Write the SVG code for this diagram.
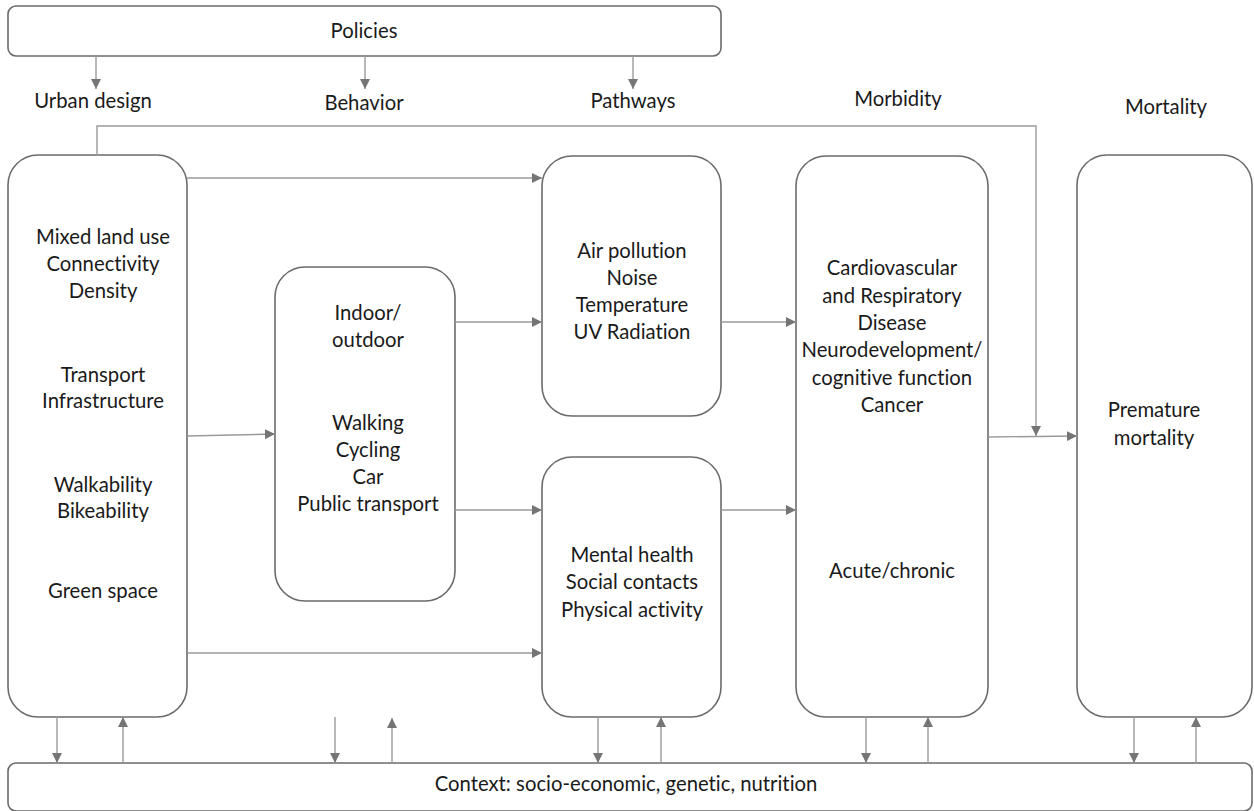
<svg xmlns="http://www.w3.org/2000/svg" width="1254" height="811" viewBox="0 0 1254 811">
  <style>
    .box { fill: #ffffff; stroke: #6b6b6b; stroke-width: 1.6; }
    .lbl { font-family: Lato, "Open Sans", "Liberation Sans", sans-serif; font-size: 20.3px; fill: #1a1a1a; text-anchor: middle; font-variant-ligatures: none; }
    .conn { fill: none; stroke: #9a9a9a; stroke-width: 1.4; }
  </style>
  <defs>
    <marker id="arrow" viewBox="0 0 10 10" refX="10" refY="5" markerWidth="10" markerHeight="10" markerUnits="userSpaceOnUse" orient="auto">
      <path d="M0,0 L10,5 L0,10 z" fill="#757575"/>
    </marker>
  </defs>

  <rect width="1254" height="811" fill="#ffffff"/>

  <!-- column headings -->
  <g id="headings">
    <text class="lbl" x="93" y="108">Urban design</text>
    <text class="lbl" x="364" y="110">Behavior</text>
    <text class="lbl" x="633" y="108">Pathways</text>
    <text class="lbl" x="898" y="106">Morbidity</text>
    <text class="lbl" x="1166" y="114">Mortality</text>
  </g>

  <g id="policies">
    <rect class="box" x="8" y="6" width="713" height="50" rx="8"/>
    <text class="lbl" x="364" y="38">Policies</text>
  </g>

  <g id="urban-design">
    <rect class="box" x="8" y="155" width="179" height="562" rx="30"/>
    <text class="lbl" x="103" y="244">Mixed land use</text>
    <text class="lbl" x="103" y="271">Connectivity</text>
    <text class="lbl" x="103" y="298">Density</text>
    <text class="lbl" x="103" y="382">Transport</text>
    <text class="lbl" x="103" y="408">Infrastructure</text>
    <text class="lbl" x="103" y="492">Walkability</text>
    <text class="lbl" x="103" y="518">Bikeability</text>
    <text class="lbl" x="103" y="598">Green space</text>
  </g>

  <g id="behavior">
    <rect class="box" x="275" y="267" width="180" height="334" rx="30"/>
    <text class="lbl" x="368" y="320">Indoor/</text>
    <text class="lbl" x="368" y="347">outdoor</text>
    <text class="lbl" x="368" y="430">Walking</text>
    <text class="lbl" x="368" y="457">Cycling</text>
    <text class="lbl" x="368" y="484">Car</text>
    <text class="lbl" x="368" y="511">Public transport</text>
  </g>

  <g id="environment">
    <rect class="box" x="542" y="156" width="179" height="260" rx="30"/>
    <text class="lbl" x="632" y="258">Air pollution</text>
    <text class="lbl" x="632" y="285">Noise</text>
    <text class="lbl" x="632" y="312">Temperature</text>
    <text class="lbl" x="632" y="339">UV Radiation</text>
  </g>

  <g id="wellbeing">
    <rect class="box" x="542" y="457" width="179" height="260" rx="30"/>
    <text class="lbl" x="632" y="562">Mental health</text>
    <text class="lbl" x="632" y="589">Social contacts</text>
    <text class="lbl" x="632" y="617">Physical activity</text>
  </g>

  <g id="morbidity">
    <rect class="box" x="796" y="156" width="192" height="561" rx="30"/>
    <text class="lbl" x="892" y="275">Cardiovascular</text>
    <text class="lbl" x="892" y="303">and Respiratory</text>
    <text class="lbl" x="892" y="330">Disease</text>
    <text class="lbl" x="892" y="357">Neurodevelopment/</text>
    <text class="lbl" x="892" y="385">cognitive function</text>
    <text class="lbl" x="892" y="412">Cancer</text>
    <text class="lbl" x="892" y="578">Acute/chronic</text>
  </g>

  <g id="mortality">
    <rect class="box" x="1077" y="155" width="175" height="562" rx="30"/>
    <text class="lbl" x="1154" y="417">Premature</text>
    <text class="lbl" x="1154" y="445">mortality</text>
  </g>

  <g id="context">
    <rect class="box" x="8" y="763" width="1244" height="48" rx="8"/>
    <text class="lbl" x="626" y="791">Context: socio-economic, genetic, nutrition</text>
  </g>

  <g id="connectors">
    <!-- policies to the three headings -->
    <line class="conn" x1="96" y1="56" x2="96" y2="89" marker-end="url(#arrow)"/>
    <line class="conn" x1="365" y1="56" x2="365" y2="89" marker-end="url(#arrow)"/>
    <line class="conn" x1="633" y1="56" x2="633" y2="89" marker-end="url(#arrow)"/>

    <!-- direct link from urban design to mortality -->
    <polyline class="conn" points="97,155 97,126 1036,126 1036,436" marker-end="url(#arrow)"/>

    <!-- urban design outputs -->
    <line class="conn" x1="187" y1="178" x2="542" y2="178" marker-end="url(#arrow)"/>
    <line class="conn" x1="187" y1="436" x2="275" y2="434" marker-end="url(#arrow)"/>
    <line class="conn" x1="187" y1="653" x2="542" y2="653" marker-end="url(#arrow)"/>

    <!-- behavior to pathways -->
    <line class="conn" x1="455" y1="322" x2="542" y2="322" marker-end="url(#arrow)"/>
    <line class="conn" x1="455" y1="510" x2="542" y2="510" marker-end="url(#arrow)"/>

    <!-- pathways to morbidity -->
    <line class="conn" x1="721" y1="322" x2="796" y2="322" marker-end="url(#arrow)"/>
    <line class="conn" x1="721" y1="510" x2="796" y2="510" marker-end="url(#arrow)"/>

    <!-- morbidity to mortality -->
    <line class="conn" x1="988" y1="437" x2="1077" y2="436" marker-end="url(#arrow)"/>

    <!-- exchanges with context -->
    <line class="conn" x1="57" y1="717" x2="57" y2="763" marker-end="url(#arrow)"/>
    <line class="conn" x1="123" y1="763" x2="123" y2="717" marker-end="url(#arrow)"/>
    <line class="conn" x1="335" y1="717" x2="335" y2="763" marker-end="url(#arrow)"/>
    <line class="conn" x1="392" y1="763" x2="392" y2="718" marker-end="url(#arrow)"/>
    <line class="conn" x1="598" y1="717" x2="598" y2="763" marker-end="url(#arrow)"/>
    <line class="conn" x1="661" y1="763" x2="661" y2="717" marker-end="url(#arrow)"/>
    <line class="conn" x1="866" y1="717" x2="866" y2="763" marker-end="url(#arrow)"/>
    <line class="conn" x1="928" y1="763" x2="928" y2="717" marker-end="url(#arrow)"/>
    <line class="conn" x1="1134" y1="717" x2="1134" y2="763" marker-end="url(#arrow)"/>
    <line class="conn" x1="1196" y1="763" x2="1196" y2="717" marker-end="url(#arrow)"/>
  </g>
</svg>
